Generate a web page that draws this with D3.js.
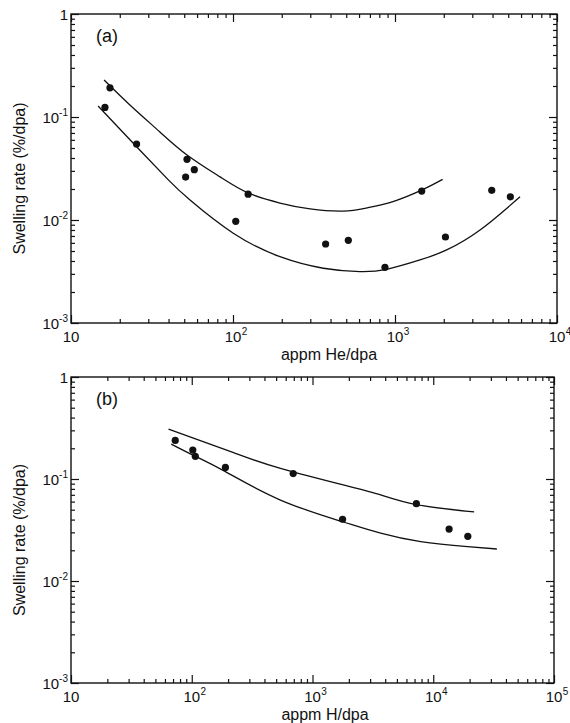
<!DOCTYPE html>
<html>
<head>
<meta charset="utf-8">
<script src="https://cdn.jsdelivr.net/npm/d3@7"></script>
<style>
  body { margin: 0; background: #fff; }
  text { font-family: "Liberation Sans", Arial, sans-serif; fill: #111; }
</style>
</head>
<body>
<div id="chart"></div>
<script>
// panel (a): helium
const heDose = [17.4, 16.2, 25.4, 52, 51, 57.7, 124, 104, 373, 515, 867, 1462, 2048, 3955, 5153];
const heRate = [0.192, 0.124, 0.0547, 0.0388, 0.0261, 0.0308, 0.0178, 0.0097, 0.00585, 0.00635, 0.00347, 0.0191, 0.00684, 0.0194, 0.0168];
const heUpperDose = [16.0, 23.1, 35.4, 52.0, 83.2, 124, 195, 299, 477, 671, 972, 1469, 1968];
const heUpperRate = [0.229, 0.131, 0.0715, 0.0428, 0.0262, 0.0183, 0.0146, 0.0128, 0.0122, 0.0131, 0.0151, 0.0196, 0.0248];
const heLowerDose = [14.7, 25.4, 39.9, 54.3, 100.4, 195, 361, 608, 889, 1426, 2084, 3350, 5916];
const heLowerRate = [0.128, 0.0515, 0.0245, 0.0156, 0.00743, 0.0044, 0.0034, 0.00315, 0.00332, 0.00409, 0.00512, 0.008, 0.0168];

// panel (b): hydrogen
const hDose = [73, 102, 107, 190, 692, 1774, 7249, 13530, 19330];
const hRate = [0.239, 0.192, 0.167, 0.130, 0.113, 0.0403, 0.0573, 0.0323, 0.0274];
const hUpperDose = [64.2, 222, 543, 1941, 3666, 7256, 21800];
const hUpperRate = [0.309, 0.181, 0.127, 0.0854, 0.0697, 0.056, 0.0475];
const hLowerDose = [67.6, 107, 190, 543, 1774, 3666, 7870, 19230, 33650];
const hLowerRate = [0.220, 0.167, 0.118, 0.0622, 0.0381, 0.0294, 0.0243, 0.0217, 0.0206];

// tick labels
const yTickValues = [1e-3, 1e-2, 1e-1, 1];
const yTickLabels = ["10^-3", "10^-2", "10^-1", "1"];
const xTickValuesA = [10, 1e2, 1e3, 1e4];
const xTickLabelsA = ["10", "10^2", "10^3", "10^4"];
const xTickValuesB = [10, 1e2, 1e3, 1e4, 1e5];
const xTickLabelsB = ["10", "10^2", "10^3", "10^4", "10^5"];

const W = 570, H = 723;

const svg = d3.select("#chart")
    .append("svg")
    .attr("width", W)
    .attr("height", H);

// 1..9 in each decade
function logTicks(lo, hi, major) {
    let res = [];
    for (let e = Math.log10(lo); e < Math.log10(hi) + 0.5; e++) {
        for (let k = 1; k <= 9; k++) {
            let v = k * Math.pow(10, e);
            if (v > hi * 1.0001) break;
            if ((k === 1) === major) res.push(v);
        }
    }
    return res;
}

function drawPanel(p) {
    const x = d3.scaleLog().domain(p.xDomain).range([p.left, p.right]);
    const y = d3.scaleLog().domain([1e-3, 1]).range([p.bottom, p.top]);
    const g = svg.append("g");
    const iw = p.right - p.left, ih = p.bottom - p.top;

    // ticks, all pointing inward
    const xMinor = logTicks(p.xDomain[0], p.xDomain[1], false);
    const xMajor = logTicks(p.xDomain[0], p.xDomain[1], true);
    const yMinor = logTicks(1e-3, 1, false);
    const yMajor = logTicks(1e-3, 1, true);

    function addAxis(axis, tx, ty) {
        const a = g.append("g")
            .attr("transform", "translate(" + tx + "," + ty + ")")
            .call(axis);
        a.select(".domain").remove();
        a.selectAll(".tick line").attr("stroke", "#111").attr("stroke-width", 1.2);
        a.selectAll(".tick text").remove();
    }
    [[xMinor, 4], [xMajor, 8]].forEach(([vals, len]) => {
        addAxis(d3.axisBottom(x).tickValues(vals).tickSize(-len), 0, p.bottom);
        addAxis(d3.axisTop(x).tickValues(vals).tickSize(-len), 0, p.top);
    });
    [[yMinor, 4], [yMajor, 8]].forEach(([vals, len]) => {
        addAxis(d3.axisLeft(y).tickValues(vals).tickSize(-len), p.left, 0);
        addAxis(d3.axisRight(y).tickValues(vals).tickSize(-len), p.right, 0);
    });

    // frame
    g.append("rect")
        .attr("x", p.left).attr("y", p.top)
        .attr("width", iw).attr("height", ih)
        .attr("fill", "none")
        .attr("stroke", "#111")
        .attr("stroke-width", 1.4);

    // x tick labels: "10" centred on the tick, exponent hangs to the right
    p.xTickValues.forEach((v, i) => {
        const parts = p.xTickLabels[i].split("^");
        const t = g.append("text")
            .attr("x", x(v)).attr("y", p.bottom + 19)
            .attr("text-anchor", "middle")
            .attr("font-size", 15)
            .text(parts[0]);
        const w = t.node().getComputedTextLength();
        if (parts[1]) {
            g.append("text")
                .attr("x", x(v) + w / 2 + 0.5).attr("y", p.bottom + 12)
                .attr("font-size", 10)
                .text(parts[1]);
        }
    });

    // y tick labels
    yTickValues.forEach((v, i) => {
        const parts = yTickLabels[i].split("^");
        const t = g.append("text")
            .attr("x", p.left - 3).attr("y", y(v) + 6)
            .attr("text-anchor", "end")
            .attr("font-size", 15);
        t.append("tspan").text(parts[0]);
        if (parts[1]) {
            t.append("tspan").attr("font-size", 10).attr("dy", -7).text(parts[1]);
        }
    });

    // fitted curves
    const line = d3.line()
        .x(d => x(d[0]))
        .y(d => y(d[1]))
        .curve(d3.curveNatural);
    [p.upper, p.lower].forEach(c => {
        g.append("path")
            .datum(d3.zip(c[0], c[1]))
            .attr("fill", "none")
            .attr("stroke", "#111")
            .attr("stroke-width", 1.3)
            .attr("d", line);
    });

    // data points
    g.append("g")
        .selectAll("circle")
        .data(d3.zip(p.dose, p.rate))
        .enter()
        .append("circle")
        .attr("cx", d => x(d[0]))
        .attr("cy", d => y(d[1]))
        .attr("r", 3.6)
        .attr("fill", "#111");

    // titles
    g.append("text")
        .attr("x", p.xTitleX).attr("y", p.bottom + 37)
        .attr("text-anchor", "middle")
        .attr("font-size", 16)
        .text(p.xTitle);
    g.append("text")
        .attr("transform", "translate(25," + (p.top + ih / 2 + 10) + ") rotate(-90)")
        .attr("text-anchor", "middle")
        .attr("font-size", 16)
        .text("Swelling rate (%/dpa)");
    g.append("text")
        .attr("x", p.left + 25).attr("y", p.top + 28)
        .attr("font-size", 18)
        .text(p.tag);
}

drawPanel({
    left: 71, right: 557, top: 14, bottom: 323,
    xDomain: [10, 1e4],
    xTickValues: xTickValuesA, xTickLabels: xTickLabelsA,
    dose: heDose, rate: heRate,
    upper: [heUpperDose, heUpperRate],
    lower: [heLowerDose, heLowerRate],
    xTitle: "appm He/dpa", xTitleX: 329,
    tag: "(a)"
});

drawPanel({
    left: 71, right: 554, top: 377, bottom: 683,
    xDomain: [10, 1e5],
    xTickValues: xTickValuesB, xTickLabels: xTickLabelsB,
    dose: hDose, rate: hRate,
    upper: [hUpperDose, hUpperRate],
    lower: [hLowerDose, hLowerRate],
    xTitle: "appm H/dpa", xTitleX: 325,
    tag: "(b)"
});
</script>
</body>
</html>
